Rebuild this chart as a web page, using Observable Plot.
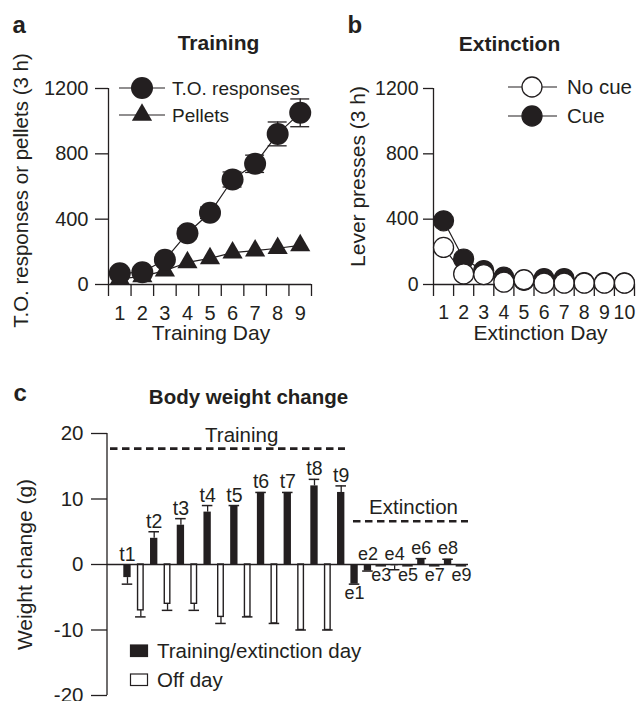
<!DOCTYPE html>
<html>
<head>
<meta charset="utf-8">
<script src="https://cdn.jsdelivr.net/npm/d3@7"></script>
<script src="https://cdn.jsdelivr.net/npm/@observablehq/plot@0.6"></script>
<style>
  body { margin: 0; background: #fff; }
  #fig { position: relative; width: 641px; height: 701px; overflow: hidden; background: #fff;
         font-family: "Liberation Sans", Arial, Helvetica, sans-serif; color: #231f20; }
  #fig svg { position: absolute; overflow: visible; }
</style>
</head>
<body>
<div id="fig"></div>
<script>
const INK = "#231f20";
const FONT = '"Liberation Sans", Arial, Helvetica, sans-serif';

// ---------- Panel a: Training ----------
const trainingDays = [1, 2, 3, 4, 5, 6, 7, 8, 9];
const toResponses = [69, 75, 151, 314, 439, 643, 739, 922, 1051];
const toResponsesSem = [10, 15, 20, 30, 35, 46, 53, 73, 85];
const pelletsEarned = [35, 50, 85, 135, 160, 195, 207, 222, 240];
const countTicks = [0, 400, 800, 1200];

// ---------- Panel b: Extinction ----------
const extinctionDays = [1, 2, 3, 4, 5, 6, 7, 8, 9, 10];
const noCuePresses = [227, 65, 61, 14, 29, 8, 8, 8, 8, 8];
const cuePresses = [390, 156, 85, 45, 25, 36, 36, 12, 12, 10];

// ---------- Panel c: Body weight change ----------
const weightSlots = ["t1","o1","t2","o2","t3","o3","t4","o4","t5","o5","t6","o6","t7","o7","t8","o8","t9",
                     "e1","e2","e3","e4","e5","e6","e7","e8","e9"];
const weightKinds = ["train","off","train","off","train","off","train","off","train","off","train","off","train","off","train","off","train",
                     "ext","ext","ext","ext","ext","ext","ext","ext","ext"];
const weightChange = [-2, -7, 4, -6, 6, -6, 8, -8, 9, -8, 11, -9, 11, -10, 12, -10, 11,
                      -3, -1, -0.2, -0.2, -0.2, 0.9, -0.2, 0.8, -0.2];
const weightSem = [1, 1, 1, 1, 1, 1, 1, 1, 0, 0, 0, 0, 0, 0, 1, 0, 1,
                   0, 0, 0, 0.6, 0, 0, 0, 0, 0];
const weightTicks = [-20, -10, 0, 10, 20];
const phaseNames = ["Training", "Extinction"];
const phaseLevels = [17.7, 6.6];
const phaseFrom = ["t1", "e1"];
const phaseTo = ["t9", "e9"];
const phaseLabelAt = ["o5", "e5"];

const baseStyle = {fontFamily: FONT, fontSize: "20px", color: INK, background: "transparent", overflow: "visible"};
const fig = document.getElementById("fig");
const label = (txt, opts) => Plot.text([txt], {text: d => d, fill: INK, ...opts});

// ===== Panel a =====
const aData = trainingDays.map((day, i) => ({day, to: toResponses[i], sem: toResponsesSem[i], pellets: pelletsEarned[i]}));
const chartA = Plot.plot({
  width: 330, height: 350,
  marginTop: 88, marginBottom: 66, marginLeft: 108, marginRight: 19,
  style: baseStyle,
  x: {domain: [0.5, 9.5], axis: null, label: null},
  y: {domain: [0, 1200], axis: null, label: null},
  marks: [
    Plot.ruleX([0.5], {stroke: INK, strokeWidth: 1.3}),
    Plot.ruleY([0], {stroke: INK, strokeWidth: 1.3}),
    Plot.axisY({ticks: countTicks, tickSize: 13, tickPadding: 7, tickFormat: d => String(d), fontSize: 20, strokeWidth: 1.3, label: null}),
    Plot.axisX({ticks: d3.range(0.5, 10, 1), tickSize: 12, tickFormat: () => "", strokeWidth: 1.3, label: null}),
    Plot.axisX({ticks: trainingDays, tickSize: 0, tickPadding: 21, tickFormat: d => String(d), fontSize: 20, label: null}),
    Plot.line(aData, {x: "day", y: "pellets", stroke: INK, strokeWidth: 1.2}),
    Plot.line(aData, {x: "day", y: "to", stroke: INK, strokeWidth: 1.2}),
    Plot.ruleX(aData, {x: "day", y1: d => d.to - d.sem, y2: d => d.to + d.sem, stroke: INK, strokeWidth: 1.3}),
    Plot.ruleY(aData, {y: d => d.to + d.sem, x1: d => d.day - 0.42, x2: d => d.day + 0.42, stroke: INK, strokeWidth: 1.3}),
    Plot.ruleY(aData, {y: d => d.to - d.sem, x1: d => d.day - 0.42, x2: d => d.day + 0.42, stroke: INK, strokeWidth: 1.3}),
    Plot.dot(aData, {x: "day", y: "pellets", symbol: "triangle", r: 7.5, fill: INK}),
    Plot.dot(aData, {x: "day", y: "to", r: 11, fill: INK}),
    label("a", {frameAnchor: "top-left", dx: -96, dy: -56, textAnchor: "start", lineAnchor: "bottom", fontWeight: "bold", fontSize: 24}),
    label("Training", {frameAnchor: "top", dx: 8.5, dy: -39, textAnchor: "middle", lineAnchor: "bottom", fontWeight: "bold", fontSize: 21}),
    label("T.O. responses or pellets (3 h)", {frameAnchor: "left", rotate: -90, dx: -87, dy: 4, textAnchor: "middle", lineAnchor: "middle", fontSize: 20.5}),
    label("Training Day", {frameAnchor: "bottom", dx: 1, dy: 55, textAnchor: "middle", lineAnchor: "bottom", fontSize: 21})
  ]
});
chartA.style.left = "0px"; chartA.style.top = "0px";
fig.appendChild(chartA);

// ===== Panel b =====
const bData = extinctionDays.map((day, i) => ({day, noCue: noCuePresses[i], cue: cuePresses[i]}));
const chartB = Plot.plot({
  width: 311, height: 350,
  marginTop: 88, marginBottom: 66, marginLeft: 103, marginRight: 7,
  style: baseStyle,
  x: {domain: [0.5, 10.5], axis: null, label: null},
  y: {domain: [0, 1200], axis: null, label: null},
  marks: [
    Plot.ruleX([0.5], {stroke: INK, strokeWidth: 1.3}),
    Plot.ruleY([0], {stroke: INK, strokeWidth: 1.3}),
    Plot.axisY({ticks: countTicks, tickSize: 10, tickPadding: 5, tickFormat: d => String(d), fontSize: 19.5, strokeWidth: 1.3, label: null}),
    Plot.axisX({ticks: d3.range(0.5, 11, 1), tickSize: 12, tickFormat: () => "", strokeWidth: 1.3, label: null}),
    Plot.axisX({ticks: extinctionDays, tickSize: 0, tickPadding: 21, tickFormat: d => String(d), fontSize: 19.5, label: null}),
    Plot.line(bData, {x: "day", y: "cue", stroke: INK, strokeWidth: 1.2}),
    Plot.dot(bData, {x: "day", y: "cue", r: 10, fill: INK, stroke: INK, strokeWidth: 1.2}),
    Plot.line(bData, {x: "day", y: "noCue", stroke: INK, strokeWidth: 1.2}),
    Plot.dot(bData, {x: "day", y: "noCue", r: 10, fill: "white", stroke: INK, strokeWidth: 1.3}),
    label("b", {frameAnchor: "top-left", dx: -86, dy: -56, textAnchor: "start", lineAnchor: "bottom", fontWeight: "bold", fontSize: 24}),
    label("Extinction", {frameAnchor: "top", dx: -24.5, dy: -38, textAnchor: "middle", lineAnchor: "bottom", fontWeight: "bold", fontSize: 21}),
    label("Lever presses (3 h)", {frameAnchor: "left", rotate: -90, dx: -75, dy: -10, textAnchor: "middle", lineAnchor: "middle", fontSize: 21}),
    label("Extinction Day", {frameAnchor: "bottom", dx: 6.5, dy: 55, textAnchor: "middle", lineAnchor: "bottom", fontSize: 21})
  ]
});
chartB.style.left = "330px"; chartB.style.top = "0px";
fig.appendChild(chartB);

// ===== Panel c =====
let extCount = 0;
const cData = weightSlots.map((slot, i) => {
  const value = weightChange[i], sem = weightSem[i], kind = weightKinds[i];
  const end = value >= 0 ? value + sem : value - sem;
  let side = null;
  if (kind === "train") side = "above";
  if (kind === "ext") { extCount++; side = extCount % 2 === 1 ? "below" : "above"; }
  return {slot, kind, value, sem, end, side};
});
const phases = phaseNames.map((name, i) => ({name, level: phaseLevels[i], from: phaseFrom[i], to: phaseTo[i], at: phaseLabelAt[i]}));

const chartC = Plot.plot({
  width: 641, height: 371,
  marginTop: 103, marginBottom: 6, marginLeft: 107, marginRight: 173,
  style: baseStyle,
  x: {type: "band", domain: weightSlots, range: [123.3, 464.6], paddingInner: 0.45, paddingOuter: 0, round: false, axis: null, label: null},
  y: {domain: [-20, 20], axis: null, label: null},
  marks: [
    Plot.axisY({ticks: weightTicks, tickSize: 16, tickPadding: 8, tickFormat: d => String(d), fontSize: 20.5, strokeWidth: 1.3, label: null}),
    Plot.barY(cData.filter(d => d.kind !== "off"), {x: "slot", y: "value", fill: INK}),
    Plot.barY(cData.filter(d => d.kind === "off"), {x: "slot", y: "value", fill: "white", stroke: INK, strokeWidth: 1.4, insetLeft: 0.9, insetRight: 0.9}),
    Plot.ruleY([0], {stroke: INK, strokeWidth: 1.3}),
    Plot.ruleX(cData.filter(d => d.sem > 0), {x: "slot", y1: "value", y2: "end", stroke: INK, strokeWidth: 1.3}),
    Plot.tickY(cData, {x: "slot", y: "end", stroke: INK, strokeWidth: 1.5, insetLeft: -1.6, insetRight: -1.6}),
    Plot.ruleY(phases.slice(0, 1), {y: "level", x1: "from", x2: "to", stroke: INK, strokeWidth: 2.7, strokeDasharray: "7.5,4.5", insetLeft: -13.3, insetRight: -0.6}),
    Plot.ruleY(phases.slice(1, 2), {y: "level", x1: "from", x2: "to", stroke: INK, strokeWidth: 2.7, strokeDasharray: "7.5,4.5", insetLeft: 2.6, insetRight: -3.4}),
    Plot.text(phases.slice(0, 1), {x: "at", y: "level", text: "name", lineAnchor: "bottom", dx: -6, dy: -7, fontSize: 20.5, fill: INK}),
    Plot.text(phases.slice(1, 2), {x: "at", y: "level", text: "name", lineAnchor: "bottom", dx: 5.5, dy: -7, fontSize: 20.5, fill: INK}),
    Plot.text(cData.filter(d => d.kind === "train"), {x: "slot", y: d => Math.max(d.end, 0), text: "slot", lineAnchor: "bottom", dy: -4, fontSize: 19.5, fill: INK}),
    Plot.text(cData.filter(d => d.kind === "ext" && d.side === "above"), {x: "slot", y: d => Math.max(d.end, 0), text: "slot", lineAnchor: "bottom", dy: -5, fontSize: 18, fill: INK}),
    Plot.text(cData.filter(d => d.kind === "ext" && d.side === "below"), {x: "slot", y: d => Math.min(d.end, 0), text: "slot", lineAnchor: "top", dy: 2, fontSize: 18, fill: INK}),
    label("c", {frameAnchor: "top-left", dx: -94, dy: -33, textAnchor: "start", lineAnchor: "bottom", fontWeight: "bold", fontSize: 24}),
    label("Body weight change", {frameAnchor: "top-left", dx: 141, dy: -30, textAnchor: "middle", lineAnchor: "bottom", fontWeight: "bold", fontSize: 20.5}),
    label("Weight change (g)", {frameAnchor: "left", rotate: -90, dx: -82, textAnchor: "middle", lineAnchor: "middle", fontSize: 21})
  ]
});
chartC.style.left = "0px"; chartC.style.top = "330px";
fig.appendChild(chartC);

// y-axis line for panel c, through the library's y scale
{
  const ys = chartC.scale("y");
  d3.select(chartC).append("line")
    .attr("x1", 107).attr("x2", 107)
    .attr("y1", ys.apply(weightTicks[weightTicks.length - 1])).attr("y2", ys.apply(weightTicks[0]))
    .attr("stroke", INK).attr("stroke-width", 1.3);
}

// ===== Legends =====
function legendText(sel, x, y, txt, size) {
  sel.append("text").attr("x", x).attr("y", y).attr("dy", "0.35em").attr("text-anchor", "start")
    .attr("font-size", size).attr("fill", INK).attr("font-family", FONT).text(txt);
}
{
  const g = d3.select(chartA).append("g");
  [[88, "circle", "T.O. responses"], [115, "triangle", "Pellets"]].forEach(([y, shape, txt]) => {
    g.append("line").attr("x1", 119).attr("x2", 165).attr("y1", y).attr("y2", y).attr("stroke", INK).attr("stroke-width", 1.2);
    if (shape === "circle") g.append("circle").attr("cx", 142).attr("cy", y).attr("r", 11).attr("fill", INK);
    else g.append("path").attr("transform", `translate(142,${y})`).attr("d", d3.symbol(d3.symbolTriangle, Math.PI * 7.5 * 7.5)()).attr("fill", INK);
    legendText(g, 172, y, txt, 19);
  });
}
{
  const g = d3.select(chartB).append("g");
  [[87, "white", "No cue"], [116, INK, "Cue"]].forEach(([y, fill, txt]) => {
    g.append("line").attr("x1", 178).attr("x2", 227).attr("y1", y).attr("y2", y).attr("stroke", INK).attr("stroke-width", 1.2);
    g.append("circle").attr("cx", 202).attr("cy", y).attr("r", 10).attr("fill", fill).attr("stroke", INK).attr("stroke-width", 1.3);
    legendText(g, 237, y, txt, 20.5);
  });
}
{
  const g = d3.select(chartC).append("g");
  [[321, INK, "Training/extinction day"], [350, "white", "Off day"]].forEach(([y, fill, txt]) => {
    g.append("rect").attr("x", 130.5).attr("y", y - 6).attr("width", 17).attr("height", 11.5)
      .attr("fill", fill).attr("stroke", INK).attr("stroke-width", 1.2);
    legendText(g, 157, y, txt, 20.5);
  });
}
</script>
</body>
</html>
